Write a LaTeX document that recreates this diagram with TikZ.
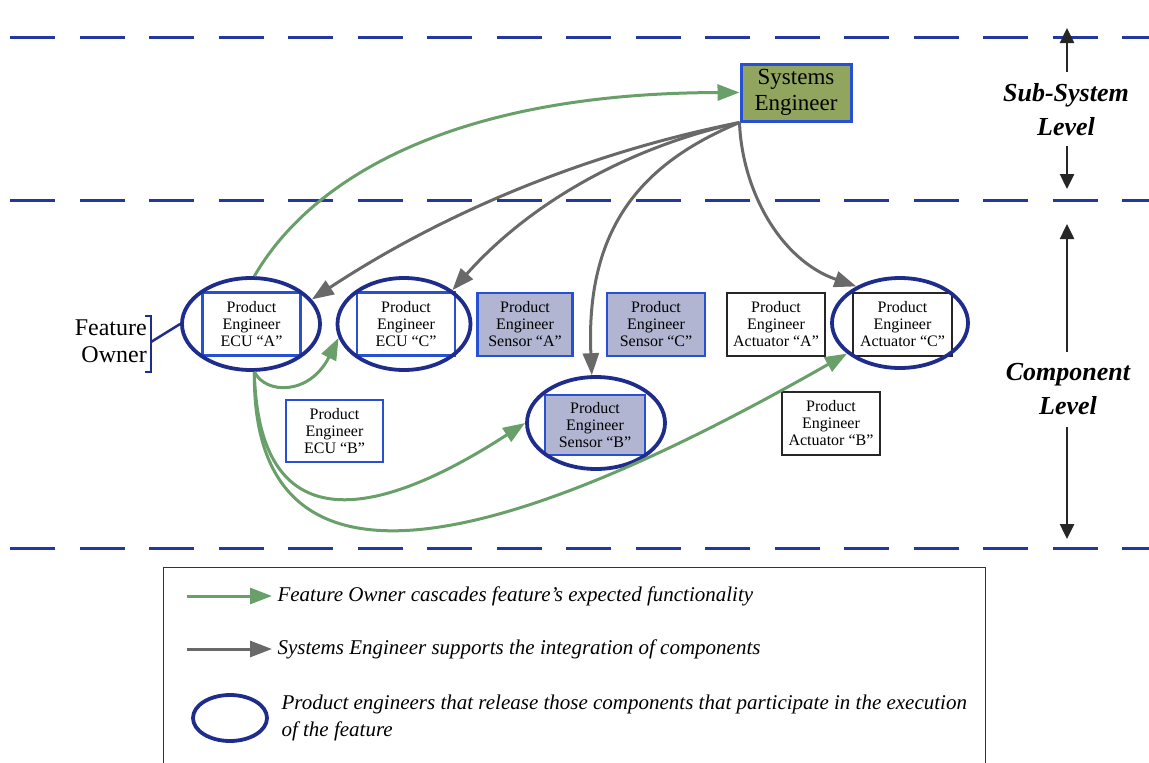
\documentclass[tikz,border=0pt]{standalone}
\usepackage{fontspec}
\setmainfont{Liberation Serif}
\usetikzlibrary{arrows.meta,shapes.geometric}
\definecolor{dashblue}{RGB}{35,55,160}
\definecolor{ovalblue}{RGB}{30,45,140}
\definecolor{boxblue}{RGB}{40,80,210}
\definecolor{sefill}{RGB}{145,165,95}
\definecolor{sensfill}{RGB}{178,181,210}
\definecolor{grn}{RGB}{105,160,105}
\definecolor{gry}{RGB}{105,105,105}
\tikzset{
  lvl/.style={draw=dashblue, line width=3pt, dash pattern=on 45pt off 24.5pt},
  pe/.style={rectangle, minimum width=98pt, minimum height=63pt, inner sep=0pt,
    align=center, font=\fontsize{16}{17}\selectfont},
  pblue/.style={pe, draw=boxblue, line width=2.6pt, fill=white},
  psens/.style={pe, draw=boxblue, line width=2.6pt, fill=sensfill},
  pblack/.style={pe, draw=black!85, line width=2.2pt, fill=white},
  oval/.style={ellipse, draw=ovalblue, line width=3.8pt, inner sep=0pt},
  garr/.style={draw=grn, line width=3pt, -{Triangle[length=22pt,width=16pt,fill=grn]}},
  yarr/.style={draw=gry, line width=3pt, -{Triangle[length=22pt,width=16pt,fill=gry]}},
  levarr/.style={draw=black!85, line width=2.5pt, -{Triangle[length=15pt,width=14pt]}},
  levtxt/.style={font=\fontsize{26}{34}\selectfont\bfseries\itshape, align=center},
  legtxt/.style={font=\fontsize{21}{27}\selectfont\itshape, anchor=west, align=left},
}
\begin{document}
\begin{tikzpicture}[x=1pt, y=-1pt]
\useasboundingbox (0,0) rectangle (1149,763);

% level separators
\draw[lvl] (10,37) -- (1149,37);
\draw[lvl] (10,200) -- (1149,200);
\draw[lvl] (10,548) -- (1149,548);

% level labels with arrows
\node[levtxt] (ssl) at (1066,110) {Sub-System\\Level};
\coordinate (ssTop) at (1067,28);
\coordinate (ssBot) at (1067,189);
\draw[levarr] (1067,72) -- (ssTop);
\draw[levarr] (1067,146) -- (ssBot);
\node[levtxt] (cl) at (1068,389) {Component\\Level};
\coordinate (clTop) at (1067,224);
\coordinate (clBot) at (1067,539);
\draw[levarr] (1067,352) -- (clTop);
\draw[levarr] (1067,427) -- (clBot);

% systems engineer
\node[rectangle, draw=boxblue, line width=3pt, fill=sefill, minimum width=110pt,
  minimum height=57pt, inner sep=0pt, align=center,
  font=\fontsize{23}{26}\selectfont] (se) at (796,92.5) {Systems\\Engineer};

% product engineers
\node[pblue]  (ecuA) at (251.5,324) {Product\\Engineer\\ECU ``A''};
\node[pblue]  (ecuC) at (406,324) {Product\\Engineer\\ECU ``C''};
\node[pblue, minimum width=97pt, minimum height=62pt] (ecuB) at (334.5,431) {Product\\Engineer\\ECU ``B''};
\node[psens, minimum width=95pt] (senA) at (525,324.5) {Product\\Engineer\\Sensor ``A''};
\node[psens] (senC) at (656,324.5) {Product\\Engineer\\Sensor ``C''};
\node[psens, minimum width=100pt, minimum height=60pt] (senB) at (595,425) {Product\\Engineer\\Sensor ``B''};
\node[pblack] (actA) at (776,324.5) {Product\\Engineer\\Actuator ``A''};
\node[pblack, minimum width=99pt] (actC) at (902.5,324.5) {Product\\Engineer\\Actuator ``C''};
\node[pblack] (actB) at (831,423.5) {Product\\Engineer\\Actuator ``B''};

% participating components
\node[oval, minimum width=138pt, minimum height=92pt] (oA) at (251,324) {};
\node[oval, minimum width=133pt, minimum height=92pt] (oC) at (404,324) {};
\node[oval, minimum width=138pt, minimum height=92pt] (oSB) at (596,423) {};
\node[oval, minimum width=136pt, minimum height=90pt] (oAC) at (900,323) {};

% feature owner
\node[anchor=east, align=right, font=\fontsize{24}{27}\selectfont, inner sep=0pt] (fo) at (147,341) {Feature\\Owner};
\draw[draw=ovalblue, line width=2.5pt] (145,316) -- (151,316) -- (151,372) -- (145,372);
\coordinate (brk) at (151,342);
\draw[draw=ovalblue, line width=2.5pt] (brk) -- (oA.west);

% feature owner cascades
\draw[garr] (oA.86) .. controls (310,180) and (450,93) .. (se.west);
\draw[garr] (oA.274) .. controls (266,395) and (310,395) .. (oC.192);
\draw[garr] (oA.274) .. controls (258,530) and (360,530) .. (oSB.180);
\draw[garr] (oA.274) .. controls (252,590) and (450,580) .. (oAC.210);

% systems engineer support
\draw[yarr] (se.south west) .. controls (586,153) and (443,213) .. (oA.22);
\draw[yarr] (se.south west) .. controls (626,148) and (529,204) .. (oC.35);
\draw[yarr] (se.south west) .. controls (650,160) and (585,220) .. (oSB.95);
\draw[yarr] (se.south west) .. controls (742,190) and (780,260) .. (oAC.140);

% legend
\draw[draw=black!80, line width=1pt] (163,770) -- (163,567) -- (985,567) -- (985,770);
\coordinate (lg1a) at (187,596);
\coordinate (lg1b) at (272,596);
\draw[garr] (lg1a) -- (lg1b);
\node[legtxt] (lt1) at (274,596) {Feature Owner cascades feature's expected functionality};
\coordinate (lg2a) at (187,649);
\coordinate (lg2b) at (272,649);
\draw[yarr] (lg2a) -- (lg2b);
\node[legtxt] (lt2) at (274,649) {Systems Engineer supports the integration of components};
\node[oval, minimum width=74pt, minimum height=46pt] (lo) at (230,718) {};
\node[legtxt] (lt3) at (278,718) {Product engineers that release those components that participate in the execution\\of the feature};
\end{tikzpicture}
\end{document}
